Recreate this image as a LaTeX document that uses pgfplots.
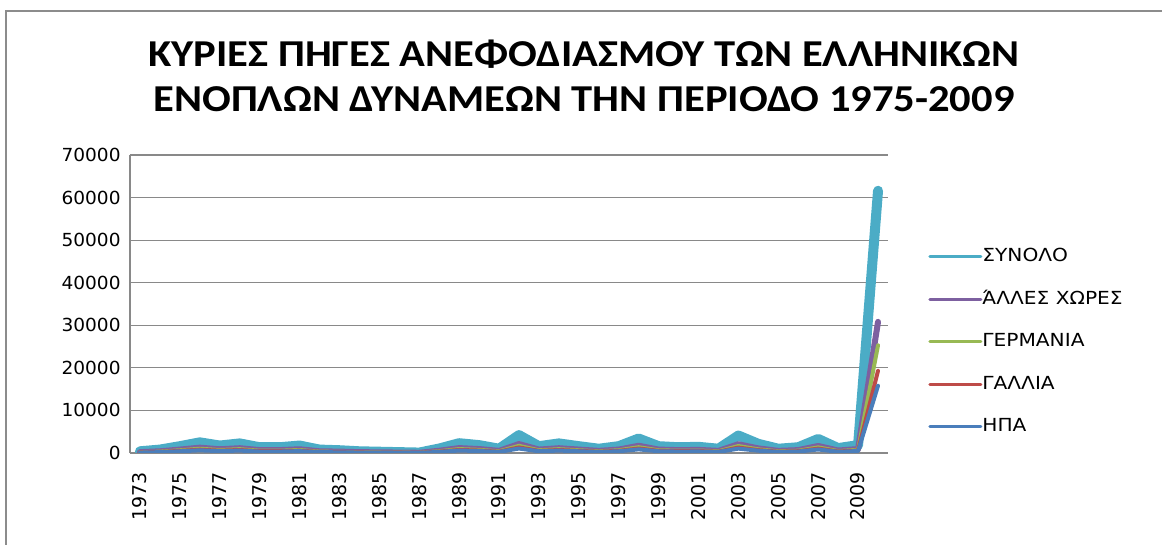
\documentclass[border=0pt]{standalone}
\usepackage{pgfplots}
\pgfplotsset{compat=1.18}
\usepackage{pgfplotstable}
\usepackage{fontspec}
\setmainfont{DejaVu Sans}[FakeStretch=1.12]
\newfontfamily\tickfont{DejaVu Sans}[FakeStretch=1.03]
\newfontfamily\plainfont{DejaVu Sans}
\newfontfamily\titlefont{Carlito}[FakeStretch=1.12]
\definecolor{cHPA}{HTML}{4A7EBB}
\definecolor{cGAL}{HTML}{BE4B48}
\definecolor{cGER}{HTML}{98B954}
\definecolor{cOTH}{HTML}{7D60A0}
\definecolor{cTOT}{HTML}{4BACC6}
\definecolor{axgray}{HTML}{898989}
\definecolor{framegray}{HTML}{8C8C8C}

\pgfplotstableread{
x HPA GAL GER OTH TOT
0 100 25 35 40 200
1 200 48 72 80 400
2 400 96 144 160 800
3 625 150 225 250 1250
4 437 105 158 175 875
5 562 135 203 225 1125
6 337 81 122 135 675
7 337 81 122 135 675
8 437 105 158 175 875
9 200 48 72 80 400
10 162 39 59 65 325
11 100 24 36 40 200
12 75 18 27 30 150
13 50 12 18 20 100
14 25 6 9 10 50
15 262 63 95 105 525
16 575 138 207 230 1150
17 462 111 167 185 925
18 250 60 90 100 500
19 1050 252 378 420 2100
20 400 96 144 160 800
21 562 135 203 225 1125
22 400 96 144 160 800
23 250 60 90 100 500
24 400 96 144 160 800
25 850 204 306 340 1700
26 400 96 144 160 800
27 337 81 122 135 675
28 362 87 131 145 725
29 250 60 90 100 500
30 1025 246 369 410 2050
31 537 129 194 215 1075
32 250 60 90 100 500
33 337 81 122 135 675
34 825 198 297 330 1650
35 287 69 104 115 575
36 462 111 167 185 925
37 15800 3500 6000 5500 30800
}\data

\begin{document}
\begin{tikzpicture}
\path[use as bounding box] (0,0) rectangle (581pt,272.5pt);
\draw[framegray, line width=1pt] (3pt,-20pt) -- (3pt,267pt) -- (640pt,267pt);
\node[font=\titlefont\bfseries\fontsize{19}{22}\selectfont, anchor=base, inner sep=0pt] at (292pt,239pt) {ΚΥΡΙΕΣ ΠΗΓΕΣ ΑΝΕΦΟΔΙΑΣΜΟΥ ΤΩΝ ΕΛΛΗΝΙΚΩΝ};
\node[font=\titlefont\bfseries\fontsize{19}{22}\selectfont, anchor=base, inner sep=0pt] at (292pt,216.5pt) {ΕΝΟΠΛΩΝ ΔΥΝΑΜΕΩΝ ΤΗΝ ΠΕΡΙΟΔΟ 1975-2009};
\begin{axis}[
  at={(65pt,46pt)}, anchor=south west,
  scale only axis, width=379pt, height=149pt,
  xmin=-0.5, xmax=37.5, ymin=0, ymax=70000,
  ytick={0,10000,20000,30000,40000,50000,60000,70000},
  xtick={0,2,4,6,8,10,12,14,16,18,20,22,24,26,28,30,32,34,36},
  xticklabels={1973,1975,1977,1979,1981,1983,1985,1987,1989,1991,1993,1995,1997,1999,2001,2003,2005,2007,2009},
  axis lines*=left,
  axis line style={draw=axgray, line width=0.6pt},
  ymajorgrids, grid style={draw=axgray, line width=0.6pt},
  major tick length=0pt,
  scaled y ticks=false,
  /pgf/number format/assume math mode=true,
  yticklabel style={font=\tickfont\fontsize{9}{10}\selectfont, /pgf/number format/1000 sep={}, inner sep=0pt, anchor=east},
  yticklabel shift=4.5pt,
  xticklabel style={font=\plainfont\fontsize{9.5}{11}\selectfont, rotate=90, anchor=east, inner sep=0pt},
  xticklabel shift=9.5pt,
  stack plots=y,
  legend style={at={(1.0528,0.373)}, anchor=west, draw=none, fill=none, inner sep=0pt,
    font=\fontsize{9}{10}\selectfont, row sep=12.25pt,
    nodes={inner sep=0pt, text height=7pt, text depth=2pt},
    /tikz/every even column/.append style={column sep=3pt}},
  legend cell align=left,
  legend image code/.code={\draw[#1, line width=1.5pt] (0.75pt,0pt) -- (26.25pt,0pt);},
  reverse legend,
]
\addplot[color=cHPA, line width=2pt, line join=round, line cap=round] table[x=x, y=HPA]{\data};
\addlegendentry{ΗΠΑ}
\addplot[color=cGAL, line width=2pt, line join=round, line cap=round] table[x=x, y=GAL]{\data};
\addlegendentry{ΓΑΛΛΙΑ}
\addplot[color=cGER, line width=2pt, line join=round, line cap=round] table[x=x, y=GER]{\data};
\addlegendentry{ΓΕΡΜΑΝΙΑ}
\addplot[color=cOTH, line width=3pt, line join=round, line cap=round] table[x=x, y=OTH]{\data};
\addlegendentry{ΆΛΛΕΣ ΧΩΡΕΣ}
\addplot[color=cTOT, line width=5pt, line join=round, line cap=round] table[x=x, y=TOT]{\data};
\addlegendentry{ΣΥΝΟΛΟ}
\end{axis}
\end{tikzpicture}
\end{document}
